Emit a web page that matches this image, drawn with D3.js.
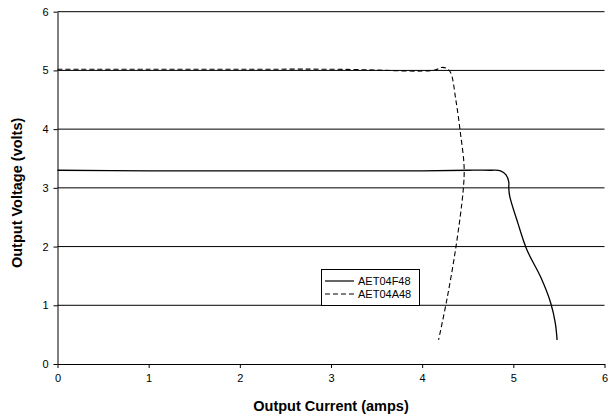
<!DOCTYPE html>
<html><head><meta charset="utf-8">
<script src="https://cdn.jsdelivr.net/npm/d3@7"></script>
<style>body{margin:0;background:#fff}svg{display:block}text{font-family:"Liberation Sans",Arial,sans-serif}</style>
</head><body>
<script>
const xTicks = [0,1,2,3,4,5,6];
const yTicks = [0,1,2,3,4,5,6];
const seriesNames = ["AET04F48","AET04A48"];
// AET04F48 (solid)
const f48Current = [0, 1, 2, 3, 4, 4.5, 4.75, 4.86, 4.92, 4.95, 4.95, 4.96, 5.05, 5.15, 5.3, 5.41, 5.46, 5.48];
const f48Voltage = [3.3, 3.29, 3.29, 3.29, 3.29, 3.3, 3.3, 3.29, 3.22, 3.1, 3.0, 2.86, 2.4, 1.94, 1.48, 1.04, 0.7, 0.41];
// AET04A48 (dashed)
const a48Current = [0, 1, 2, 3, 3.4, 3.6, 4.0, 4.15, 4.21, 4.26, 4.31, 4.37, 4.42, 4.46, 4.45, 4.37, 4.27, 4.18];
const a48Voltage = [5.02, 5.02, 5.02, 5.02, 5.01, 5.0, 4.99, 5.01, 5.05, 5.04, 4.97, 4.49, 3.93, 3.36, 2.96, 1.99, 1.09, 0.41];

const W = 609, H = 418;
const svg = d3.select("body").append("svg").attr("width", W).attr("height", H);
const x = d3.scaleLinear().domain([0,6]).range([57.5, 604.5]);
const y = d3.scaleLinear().domain([0,6]).range([364, 11.7]);

// gridlines
svg.append("g").selectAll("line").data(yTicks.filter(d=>d>0)).join("line")
  .attr("x1", x(0)).attr("x2", x(6)).attr("y1", d=>y(d)).attr("y2", d=>y(d))
  .attr("stroke", "#000").attr("stroke-width", 1);

// axes
const xAxis = svg.append("g").attr("transform", `translate(0,${y(0)})`)
  .call(d3.axisBottom(x).tickValues(xTicks).tickFormat(d3.format("d")).tickSizeInner(4).tickSizeOuter(0).tickPadding(6));
const yAxis = svg.append("g").attr("transform", `translate(${x(0)},0)`)
  .call(d3.axisLeft(y).tickValues(yTicks).tickFormat(d3.format("d")).tickSizeInner(4).tickSizeOuter(0).tickPadding(5));
[xAxis, yAxis].forEach(g => {
  g.select(".domain").attr("stroke", "#000");
  g.selectAll(".tick line").attr("stroke", "#000");
  g.selectAll(".tick text").attr("font-size", 11).attr("fill", "#000")
    .attr("font-family", "'Liberation Sans', Arial, sans-serif");
});

const lineX = d3.line().curve(d3.curveCatmullRom.alpha(0.5));
const f48 = f48Current.map((c,i)=>[x(c), y(f48Voltage[i])]);
const a48 = a48Current.map((c,i)=>[x(c), y(a48Voltage[i])]);
svg.append("path").attr("d", lineX(f48)).attr("fill","none").attr("stroke","#000").attr("stroke-width",1.3);
svg.append("path").attr("d", lineX(a48)).attr("fill","none").attr("stroke","#000").attr("stroke-width",1.1).attr("stroke-dasharray","5,3");

// legend
const lg = svg.append("g");
lg.append("rect").attr("x", 321.5).attr("y", 269.5).attr("width", 98).attr("height", 36)
  .attr("fill", "#fff").attr("stroke", "#000").attr("stroke-width", 1);
seriesNames.forEach((n,i) => {
  const yy = 281 + i*13;
  lg.append("line").attr("x1", 325).attr("x2", 354).attr("y1", yy).attr("y2", yy)
    .attr("stroke", "#000").attr("stroke-width", 1.2).attr("stroke-dasharray", i ? "5,3" : null);
  lg.append("text").attr("x", 358).attr("y", yy + 4).attr("font-size", 11).text(n);
});

// axis titles
svg.append("text").attr("x", (x(0)+x(6))/2).attr("y", 411).attr("text-anchor","middle")
  .attr("font-size", 14.5).attr("font-weight","bold").text("Output Current (amps)");
svg.append("text").attr("transform", `translate(22,${(y(0)+y(6))/2 + 5}) rotate(-90)`).attr("text-anchor","middle")
  .attr("font-size", 14.5).attr("font-weight","bold").text("Output Voltage (volts)");
</script>
</body></html>
